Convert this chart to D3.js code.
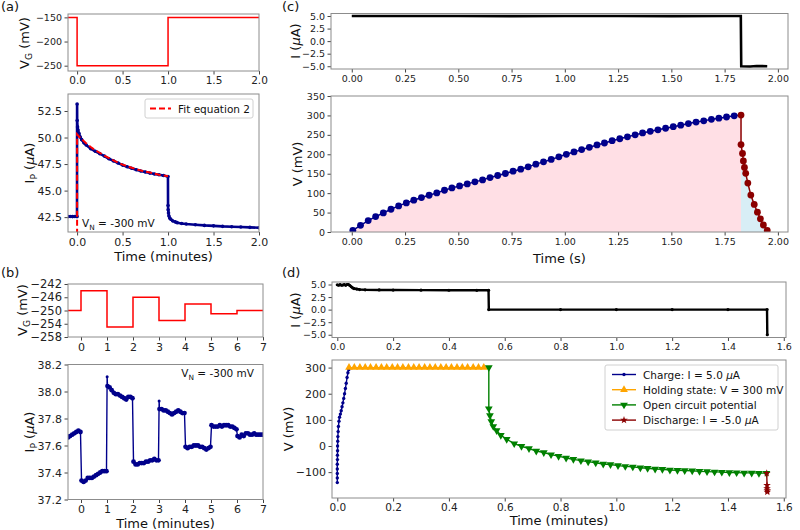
<!DOCTYPE html>
<html><head><meta charset="utf-8">
<script src="https://cdn.jsdelivr.net/npm/d3@7"></script>
<style>body{margin:0;background:#fff}svg{display:block}text{font-family:"DejaVu Sans",sans-serif}</style>
</head><body>
<svg id="c" width="800" height="530"></svg>
<script>
// ---------- DATA ----------
// (a) gate voltage steps (start time, value) and end time
const aGateStart = [-0.1, 0, 1];
const aGate = [-150, -250, -150];
const aGateEnd = 2.0;
// (a) drain current
const aTime = [-0.1,-0.075,-0.05,-0.025,-0.001,0,0.001,0.005,0.01,0.02,0.035,0.05,0.075,0.1,
  0.15,0.2,0.25,0.3,0.35,0.4,0.45,0.5,0.55,0.6,0.65,0.7,0.75,0.8,0.85,0.9,0.95,0.999,
  1.0,1.001,1.005,1.01,1.02,1.03,1.05,1.08,1.1,1.15,1.2,1.3,1.4,1.5,1.6,1.7,1.8,1.9,2.0];
const aCurrent = [42.55,42.56,42.55,42.56,42.55,53.15,51.6,51.0,50.7,50.4,50.05,49.8,49.5,49.3,
  48.95,48.7,48.48,48.25,48.0,47.8,47.6,47.4,47.25,47.1,46.97,46.85,46.75,46.65,46.57,46.5,46.42,46.33,
  43.6,43.2,42.9,42.6,42.4,42.3,42.15,42.05,41.98,41.9,41.85,41.78,41.72,41.68,41.63,41.6,41.57,41.54,41.5];
const aFitTime = [0,0,0.02,0.05,0.1,0.15,0.2,0.3,0.4,0.5,0.6,0.7,0.8,0.9,1.0];
const aFit = [40.0,50.3,50.1,49.85,49.45,49.1,48.8,48.3,47.85,47.45,47.15,46.9,46.7,46.5,46.35];

// (b) gate voltage steps
const bGateStart = [-0.5,0,1,2,3,4,5,6];
const bGate = [-250,-244,-255,-246,-253,-248,-251,-250];
const bGateEnd = 7;
// (b) drain current: sampling offsets within each minute, and values per minute segment
const bOffsets = [0.02,0.1,0.18,0.26,0.34,0.42,0.5,0.58,0.66,0.74,0.82,0.9,0.98];
const bSegStart = [0,1,2,3,4,5,6];
const bPre = [[-0.5,37.66],[-0.42,37.67],[-0.34,37.68],[-0.26,37.69],[-0.18,37.70],[-0.1,37.71],[-0.02,37.70]];
const bSegValues = [
  [37.34,37.33,37.34,37.36,37.36,37.36,37.37,37.38,37.39,37.40,37.41,37.41,37.41],
  [38.04,38.03,38.01,37.99,37.98,37.98,37.97,37.96,37.95,37.94,37.96,37.96,37.95],
  [37.48,37.46,37.46,37.47,37.47,37.47,37.48,37.48,37.49,37.49,37.50,37.49,37.49],
  [37.87,37.87,37.86,37.86,37.85,37.84,37.83,37.84,37.85,37.86,37.85,37.84,37.84],
  [37.59,37.58,37.59,37.59,37.60,37.60,37.60,37.59,37.59,37.58,37.57,37.58,37.59],
  [37.75,37.74,37.74,37.74,37.75,37.74,37.75,37.75,37.75,37.74,37.74,37.73,37.72],
  [37.67,37.66,37.68,37.67,37.69,37.69,37.68,37.68,37.69,37.68,37.68,37.68,37.68]];
const bSpikes = [[1.005,38.11],[3.005,37.93]];

// (c) current
const cCurTime = [0,0.25,0.5,0.75,1.0,1.25,1.5,1.75,1.826,1.828,1.87,1.9,1.95];
const cCurrent = [5.0,5.0,5.0,4.98,5.0,5.0,4.98,5.0,5.0,-5.0,-5.05,-4.95,-5.0];
// (c) voltage: charge and discharge
const cChargeTime = [0.005,0.041,0.077,0.112,0.148,0.184,0.220,0.256,0.291,0.327,
  0.363,0.399,0.435,0.470,0.506,0.542,0.578,0.614,0.649,0.685,
  0.721,0.757,0.793,0.828,0.864,0.900,0.936,0.972,1.007,1.043,
  1.079,1.115,1.151,1.186,1.222,1.258,1.294,1.330,1.365,1.401,
  1.437,1.473,1.509,1.544,1.580,1.616,1.652,1.688,1.723,1.759,1.795];
const cChargeV = [4.4,17.3,29.3,39.6,49.0,58.5,67.2,74.9,81.8,88.6,
  94.6,100.6,107.5,113.5,118.6,123.8,129.0,134.1,140.1,145.4,
  150.6,156.5,161.7,167.7,174.6,180.5,186.7,193.4,200,206,
  212,218,224,229,235,240,245,250,255,259,
  263,267,271,275,279,283,286,290,293,296,299];
const cDisTime = [1.827,1.827,1.834,1.838,1.843,1.849,1.859,1.873,1.889,1.904,1.918,1.932,1.950];
const cDisV = [301,225,202,183,166,151,126,95,71,51,34,18,4];

// (d) current
const dCurTime = [0,0.005,0.01,0.015,0.02,0.025,0.03,0.035,0.04,0.045,0.05,0.055,0.06,0.07,0.08,0.1,0.15,0.2,0.3,0.4,0.5,0.542,0.543,0.8,1.0,1.2,1.4,1.54,1.541];
const dCurrent = [4.95,4.85,5.0,4.85,4.9,5.0,4.85,5.0,5.0,4.8,4.55,4.35,4.2,4.1,4.0,3.95,3.92,3.9,3.88,3.86,3.85,3.85,0.0,0,0,0,0,0,-5.0];
// (d) voltage series
const dChargeTime = [0,0,0,0,0,0.0005,0.0005,0.001,0.001,0.0015,0.002,0.003,0.004,0.006,0.008,0.011,0.014,0.017,0.020,0.023,0.026,0.029,0.032,0.035,0.038,0.041];
const dChargeV = [-140,-122,-105,-88,-70,-52,-35,-18,0,18,36,55,75,95,110,122,135,150,165,182,200,220,240,262,280,292];
const dHoldTime = [0.042,0.061,0.081,0.100,0.119,0.139,0.158,0.177,0.197,0.216,0.235,0.255,0.274,0.293,0.313,0.332,0.351,0.371,0.390,0.409,0.429,0.448,0.467,0.487,0.506,0.525];
const dHoldV = [300,300,300,300,300,300,300,300,300,300,300,300,300,300,300,300,300,300,300,300,300,300,300,300,300,300];
const dOcpTime = [0.543,0.543,0.547,0.552,0.559,0.571,0.586,0.607,0.634,
  0.660,0.687,0.713,0.740,0.766,0.793,0.820,0.846,0.873,0.899,0.926,0.953,0.979,1.006,1.032,1.059,1.086,
  1.112,1.139,1.165,1.192,1.219,1.245,1.272,1.298,1.325,1.352,1.378,1.405,1.431,1.458,1.485,1.511,1.538];
const dOcpV = [300,143,117,94,75,59,41,26,9,
  -1,-10,-19,-25,-33,-39,-46,-51,-56,-60,-64,-69,-71,-75,-78,-80,-83,
  -85,-88,-89,-92,-93,-94,-95,-97,-98,-99,-100,-101.5,-102,-103,-103,-104,-104];
const dDisTime = [1.539,1.540,1.540,1.541,1.541];
const dDisV = [-104,-150,-163,-170,-176];
const dLegend = ["Charge: I = 5.0 ", "Holding state: V = 300 mV", "Open circuit potential", "Discharge: I = -5.0 "];

// ---------- DRAWING ----------
const svg = d3.select("#c");
const NAVY = "#00008b", DRED = "#8b0000", ORANGE = "#ffa500", GREEN = "#008000";
const zip = (a,b) => a.map((v,i)=>[v,b[i]]);
let clipId = 0;

function panel(o) {
  const x = d3.scaleLinear().domain(o.xd).range([o.x0,o.x1]);
  const y = d3.scaleLinear().domain(o.yd).range([o.y1,o.y0]);
  const id = "clip" + (clipId++);
  svg.append("clipPath").attr("id", id).append("rect")
    .attr("x", o.x0).attr("y", o.y0).attr("width", o.x1-o.x0).attr("height", o.y1-o.y0);
  const plot = svg.append("g").attr("clip-path", `url(#${id})`);
  const xa = svg.append("g").attr("transform", `translate(0,${o.y1})`)
    .call(d3.axisBottom(x).tickValues(o.xt).tickFormat(o.xf).tickSize(3.5).tickPadding(2.5));
  const ya = svg.append("g").attr("transform", `translate(${o.x0},0)`)
    .call(d3.axisLeft(y).tickValues(o.yt).tickFormat(o.yf).tickSize(3.5).tickPadding(2.5));
  [[xa, o.fsx || 10.5], [ya, o.fsy || 10.5]].forEach(([a, fs]) => {
    a.select(".domain").remove();
    a.selectAll("text").attr("font-size", fs).attr("fill", "#222").attr("font-family", "DejaVu Sans");
    a.selectAll("line").attr("stroke", "#444");
  });
  svg.append("rect").attr("x", o.x0).attr("y", o.y0).attr("width", o.x1-o.x0).attr("height", o.y1-o.y0)
    .attr("fill", "none").attr("stroke", "#8c8c8c").attr("stroke-width", 1);
  return {x, y, plot};
}

function ylabel(xc, yc, parts) {
  const t = svg.append("text").attr("transform", `translate(${xc},${yc}) rotate(-90)`)
    .attr("text-anchor", "middle").attr("dy", "0.35em").attr("font-size", 13).attr("fill", "#111");
  addParts(t, parts);
}
function addParts(t, parts) {
  let shift = 0;
  parts.forEach(p => {
    const s = t.append("tspan").text(p.t);
    if (p.sub) { s.attr("font-size", "70%").attr("dy", 3 - shift); shift = 3; }
    else if (shift) { s.attr("dy", -shift); shift = 0; }
    if (p.it) s.attr("font-style", "italic");
  });
}
function xlabel(xc, yc, txt) {
  svg.append("text").attr("x", xc).attr("y", yc).attr("text-anchor", "middle").attr("dy", "0.35em")
    .attr("font-size", 13).attr("fill", "#111").text(txt);
}
function letter(x, y, txt) {
  svg.append("text").attr("x", x).attr("y", y).attr("font-family", "Liberation Serif, serif")
    .attr("font-size", 13).attr("fill", "#111").text(txt);
}
function lineOf(p, pts, color, w, curve) {
  const l = d3.line().x(d => p.x(d[0])).y(d => p.y(d[1]));
  if (curve) l.curve(curve);
  return p.plot.append("path").attr("d", l(pts)).attr("fill", "none").attr("stroke", color).attr("stroke-width", w);
}
function dots(p, pts, color, r) {
  p.plot.selectAll(null).data(pts).join("circle").attr("cx", d => p.x(d[0])).attr("cy", d => p.y(d[1]))
    .attr("r", r).attr("fill", color);
}
function symbols(p, pts, color, type, size, rot) {
  p.plot.selectAll(null).data(pts).join("path")
    .attr("transform", d => `translate(${p.x(d[0])},${p.y(d[1])}) rotate(${rot||0})`)
    .attr("d", d3.symbol().type(type).size(size)).attr("fill", color);
}
const f1 = d3.format(".1f"), f0 = d3.format("d"), f2 = d3.format(".2f");

// ---- (a) top
letter(1, 11, "(a)");
const aT = panel({x0:68,x1:259,y0:14,y1:71,xd:[-0.1,2.0],yd:[-261,-143],
  xt:[0,0.5,1,1.5,2],xf:f1,yt:[-250,-200,-150],yf:f0,fsx:10.5,fsy:9.5});
lineOf(aT, [...zip(aGateStart,aGate), [aGateEnd, aGate[aGate.length-1]]], "#ff0000", 1.5, d3.curveStepAfter);
ylabel(24, 43, [{t:"V"},{t:"G",sub:true},{t:" (mV)"}]);

// ---- (a) bottom
const aB = panel({x0:68,x1:259,y0:94,y1:232,xd:[-0.1,2.0],yd:[41.1,54.1],
  xt:[0,0.5,1,1.5,2],xf:f1,yt:[42.5,45,47.5,50,52.5],yf:f1,fsx:11,fsy:11});
const aPts = zip(aTime, aCurrent);
lineOf(aB, aPts, NAVY, 2.6);
dots(aB, aPts, NAVY, 1.8);
lineOf(aB, zip(aFitTime, aFit), "#ff0000", 2).attr("stroke-dasharray", "6,3");
ylabel(29, 163, [{t:"I"},{t:"P",sub:true},{t:" ("},{t:"μ",it:true},{t:"A)"}]);
xlabel(163.5, 256, "Time (minutes)");
svg.append("rect").attr("x",145).attr("y",99).attr("width",108).attr("height",19).attr("rx",2)
  .attr("fill","#fff").attr("fill-opacity",0.8).attr("stroke","#d0d0d0");
svg.append("line").attr("x1",150).attr("x2",171).attr("y1",108.5).attr("y2",108.5)
  .attr("stroke","#ff0000").attr("stroke-width",2).attr("stroke-dasharray","6,3");
svg.append("text").attr("x",178).attr("y",112.5).attr("font-size",10.5).attr("fill","#111").text("Fit equation 2");
{ const t = svg.append("text").attr("x",82).attr("y",227).attr("font-size",10.5).attr("fill","#111");
  addParts(t, [{t:"V"},{t:"N",sub:true},{t:" = -300 mV"}]); }

// ---- (b) top
letter(1, 277, "(b)");
const bT = panel({x0:68,x1:263,y0:284,y1:337,xd:[-0.5,7],yd:[-258,-242],
  xt:[0,1,2,3,4,5,6,7],xf:f0,yt:[-258,-254,-250,-246,-242],yf:f0,fsx:11,fsy:11.5});
lineOf(bT, [...zip(bGateStart,bGate), [bGateEnd, bGate[bGate.length-1]]], "#ff0000", 1.5, d3.curveStepAfter);
ylabel(22, 310, [{t:"V"},{t:"G",sub:true},{t:" (mV)"}]);

// ---- (b) bottom
const bB = panel({x0:68,x1:263,y0:364.5,y1:499.5,xd:[-0.5,7],yd:[37.2,38.2],
  xt:[0,1,2,3,4,5,6,7],xf:f0,yt:[37.2,37.4,37.6,37.8,38.0,38.2],yf:f1,fsx:11,fsy:11});
let bPts = [...bPre];
bSegStart.forEach((s, k) => {
  const seg = bOffsets.map((o, i) => [s + o, bSegValues[k][i]]);
  const sp = bSpikes.find(d => Math.floor(d[0]) === s);
  if (sp) bPts.push(sp);
  bPts = bPts.concat(seg);
});
lineOf(bB, bPts, NAVY, 1.4);
dots(bB, bPts.filter(d => !bSpikes.includes(d)), NAVY, 2.4);
dots(bB, bSpikes, NAVY, 1.5);
ylabel(29, 432, [{t:"I"},{t:"P",sub:true},{t:" ("},{t:"μ",it:true},{t:"A)"}]);
xlabel(165.5, 523, "Time (minutes)");
{ const t = svg.append("text").attr("x",254).attr("y",377).attr("text-anchor","end").attr("font-size",10.5).attr("fill","#111");
  addParts(t, [{t:"V"},{t:"N",sub:true},{t:" = -300 mV"}]); }

// ---- (c) top
letter(282, 11, "(c)");
const cT = panel({x0:331,x1:788,y0:13.5,y1:69,xd:[-0.0975,2.0475],yd:[-5.55,5.5],
  xt:[0,0.25,0.5,0.75,1,1.25,1.5,1.75,2],xf:f2,yt:[-5,-2.5,0,2.5,5],yf:f1,fsx:9.5,fsy:9.5});
lineOf(cT, zip(cCurTime,cCurrent), "#000", 2.6);
ylabel(295, 41, [{t:"I ("},{t:"μ",it:true},{t:"A)"}]);

// ---- (c) bottom
const cB = panel({x0:331,x1:788,y0:96,y1:232,xd:[-0.0975,2.0475],yd:[0,350],
  xt:[0,0.25,0.5,0.75,1,1.25,1.5,1.75,2],xf:f2,yt:[0,50,100,150,200,250,300,350],yf:f0,fsx:9.5,fsy:9.5});
const cChg = zip(cChargeTime, cChargeV), cDis = zip(cDisTime, cDisV);
const area = d3.area().x(d => cB.x(d[0])).y0(cB.y(0)).y1(d => cB.y(d[1]));
cB.plot.append("path").attr("d", area([[0,0], ...cChg, [cDisTime[0], cDisV[0]], [cDisTime[0], 160]]))
  .attr("fill", "#ffdfe5");
cB.plot.append("path").attr("d", area([[cDisTime[0], 160], ...cDis.slice(5)]))
  .attr("fill", "#d8eef6");
lineOf(cB, [...cChg, cDis[0]], NAVY, 1.5);
lineOf(cB, cDis, DRED, 1.5);
dots(cB, cChg, NAVY, 3.4);
dots(cB, cDis, DRED, 3.4);
ylabel(297, 164, [{t:"V (mV)"}]);
xlabel(559.5, 258, "Time (s)");

// ---- (d) top
letter(282, 277, "(d)");
const dT = panel({x0:332,x1:786,y0:282,y1:337.5,xd:[-0.019,1.608],yd:[-5.55,5.5],
  xt:[0,0.2,0.4,0.6,0.8,1.0,1.2,1.4,1.6],xf:f1,yt:[-5,-2.5,0,2.5,5],yf:f1,fsx:9.5,fsy:9.5});
const dCur = zip(dCurTime, dCurrent);
lineOf(dT, dCur, "#000", 2.4);
dots(dT, dCur, "#000", 1.6);
ylabel(295, 310, [{t:"I ("},{t:"μ",it:true},{t:"A)"}]);

// ---- (d) bottom
const dB = panel({x0:332,x1:786,y0:360,y1:498,xd:[-0.019,1.608],yd:[-199,329],
  xt:[0,0.2,0.4,0.6,0.8,1.0,1.2,1.4,1.6],xf:f1,yt:[-100,0,100,200,300],yf:f0,fsx:10.5,fsy:11});
const dChg = zip(dChargeTime,dChargeV), dHold = zip(dHoldTime,dHoldV), dOcp = zip(dOcpTime,dOcpV), dDis = zip(dDisTime,dDisV);
lineOf(dB, dChg, NAVY, 1.4); dots(dB, dChg, NAVY, 1.7);
lineOf(dB, dHold, ORANGE, 1.4); symbols(dB, dHold, ORANGE, d3.symbolTriangle, 26, 0);
lineOf(dB, dOcp, GREEN, 1.4); symbols(dB, dOcp, GREEN, d3.symbolTriangle, 26, 180);
lineOf(dB, dDis, DRED, 1.4); symbols(dB, dDis, DRED, d3.symbolStar, 18, 0);
ylabel(288, 429, [{t:"V (mV)"}]);
xlabel(559, 520, "Time (minutes)");
// legend
svg.append("rect").attr("x",605).attr("y",365).attr("width",173).attr("height",65).attr("rx",2)
  .attr("fill","#fff").attr("fill-opacity",0.8).attr("stroke","#d0d0d0");
const legC = [NAVY, ORANGE, GREEN, DRED];
const legS = [null, [d3.symbolTriangle,0], [d3.symbolTriangle,180], [d3.symbolStar,0]];
dLegend.forEach((lab, i) => {
  const yy = 374.5 + i * 15.2;
  svg.append("line").attr("x1",612).attr("x2",636).attr("y1",yy).attr("y2",yy).attr("stroke",legC[i]).attr("stroke-width",1.4);
  if (i === 0) svg.append("circle").attr("cx",624).attr("cy",yy).attr("r",1.7).attr("fill",legC[i]);
  else svg.append("path").attr("transform",`translate(624,${yy}) rotate(${legS[i][1]})`)
    .attr("d", d3.symbol().type(legS[i][0]).size(i===3?18:26)).attr("fill",legC[i]);
  const t = svg.append("text").attr("x",643).attr("y",yy+4).attr("font-size",10.5).attr("fill","#111");
  if (i === 0 || i === 3) addParts(t, [{t:lab},{t:"μ",it:true},{t:"A"}]);
  else t.text(lab);
});
</script>
</body></html>
